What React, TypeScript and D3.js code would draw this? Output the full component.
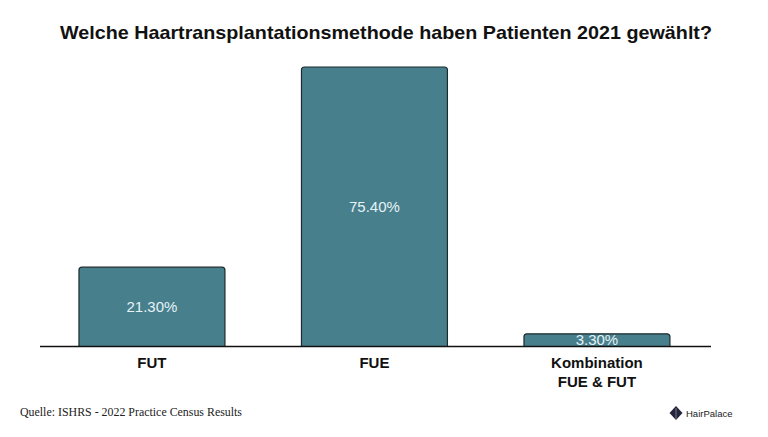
import React from "react";
import * as d3 from "d3";

const categories = ["FUT", "FUE", "Kombination\nFUE & FUT"];
const values = [21.3, 75.4, 3.3];
const valueLabels = ["21.30%", "75.40%", "3.30%"];
const title = "Welche Haartransplantationsmethode haben Patienten 2021 gewählt?";
const source = "Quelle: ISHRS - 2022 Practice Census Results";
const brand = "HairPalace";

export default function App() {
  const W = 768, H = 437;
  const baseY = 346;
  const x = d3.scaleBand<string>().domain(categories).range([40.7, 708.2]).paddingInner(0.344).paddingOuter(0.172);
  const y = d3.scaleLinear().domain([0, 75.4]).range([baseY, 67]);
  const r = 3;
  const barPath = (x0: number, w: number, top: number) => {
    const p = d3.path();
    p.moveTo(x0, baseY);
    p.lineTo(x0, top + r);
    p.quadraticCurveTo(x0, top, x0 + r, top);
    p.lineTo(x0 + w - r, top);
    p.quadraticCurveTo(x0 + w, top, x0 + w, top + r);
    p.lineTo(x0 + w, baseY);
    return p.toString();
  };
  return (
    <svg width={W} height={H} style={{ position: "absolute", left: 0, top: 0, background: "#fff" }}>
      <rect width={W} height={H} fill="#fff" />
      <text x={386} y={39} textAnchor="middle" fontFamily="Liberation Sans, Arial, sans-serif" fontWeight="bold" fontSize={18.5} fill="#111" textLength={652} lengthAdjust="spacingAndGlyphs">{title}</text>
      {categories.map((c, i) => {
        const x0 = x(c)!;
        const w = x.bandwidth();
        const top = y(values[i]);
        const cy = (top + baseY) / 2;
        return (
          <g key={c}>
            <path d={barPath(x0, w, top)} fill="#477f8c" stroke="#1d2a2e" strokeWidth={1.2} />
            <text x={x0 + w / 2} y={i === 2 ? 345 : cy + 5.5} textAnchor="middle" fontFamily="Liberation Sans, Arial, sans-serif" fontSize={15} fill="#e4f3f7">{valueLabels[i]}</text>
            {c.split("\n").map((line, j) => (
              <text key={j} x={x0 + w / 2} y={368 + j * 19} textAnchor="middle" fontFamily="Liberation Sans, Arial, sans-serif" fontWeight="bold" fontSize={15} fill="#111">{line}</text>
            ))}
          </g>
        );
      })}
      <line x1={40} x2={711} y1={baseY + 0.5} y2={baseY + 0.5} stroke="#111" strokeWidth={1.3} />
      <text x={20} y={416} fontFamily="Liberation Serif, Times New Roman, serif" fontSize={12} fill="#222" textLength={222} lengthAdjust="spacingAndGlyphs">{source}</text>
      <g transform="translate(676,413)">
        <path d="M0,-7 L6.5,0 L0,7 L-6.5,0 Z" fill="#23233a" />
        <path d="M0,-5 L0,6" stroke="#8a8aa8" strokeWidth={0.8} />
      </g>
      <text x={686} y={417} fontFamily="Liberation Sans, Arial, sans-serif" fontSize={9.5} fill="#222">{brand}</text>
    </svg>
  );
}
